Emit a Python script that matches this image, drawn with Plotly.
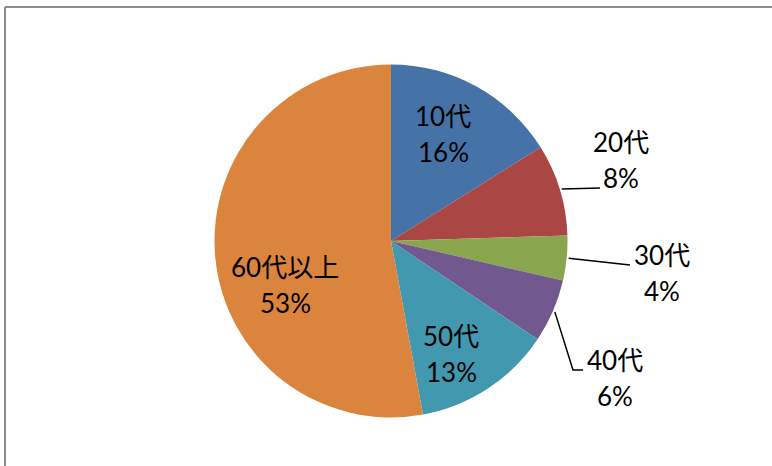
import math
import plotly.graph_objects as go

# ---- data ----
categories = ["10代", "20代", "30代", "40代", "50代", "60代以上"]
share = [16.1, 8.4, 4.1, 5.8, 12.7, 52.9]   # slice shares (%)
colors = ["#4572A7", "#AA4643", "#89A54E", "#71588F", "#4198AF", "#DB843D"]

# ---- layout settings (pixels) ----
W, H = 772, 466
CX, CY, R = 391, 241, 176.5
# label block centres (pixels)
label_pos = {
    "10代": (443, 134),
    "20代": (621, 160),
    "30代": (662, 273),
    "40代": (615, 378),
    "50代": (451, 354),
    "60代以上": (285, 285),
}
# leader line end points for outside labels (pixels)
leader_end = {
    "20代": [(600, 188)],
    "30代": [(630, 265)],
    "40代": [(573, 370), (583, 370)],
}
FONT = "Lato, 'Noto Sans CJK JP', sans-serif"
FS = 26
LINE_GAP = 18


def px(x):
    return x / W


def py(y):
    return 1 - y / H


fig = go.Figure(go.Pie(
    labels=categories,
    values=share,
    sort=False,
    direction="clockwise",
    rotation=0,
    marker=dict(colors=colors, line=dict(width=0)),
    textinfo="none",
    hoverinfo="label+percent",
    showlegend=False,
    domain=dict(x=[px(CX - R), px(CX + R)], y=[py(CY + R), py(CY - R)]),
))

annotations = []
shapes = []
total = sum(share)
cum = 0
for name, v in zip(categories, share):
    mid = (cum + v / 2) / total * 2 * math.pi
    cum += v
    pct = round(v / total * 100)
    lx, ly = label_pos[name]
    annotations.append(dict(x=px(lx), y=py(ly - LINE_GAP), xref="paper", yref="paper",
                            text=name, showarrow=False, xanchor="center", yanchor="middle",
                            font=dict(family=FONT, size=FS, color="#000000")))
    annotations.append(dict(x=px(lx), y=py(ly + LINE_GAP), xref="paper", yref="paper",
                            text=f"{pct}%", showarrow=False, xanchor="center", yanchor="middle",
                            font=dict(family=FONT, size=FS, color="#000000")))
    if name in leader_end:
        sx = CX + (R + 2) * math.sin(mid)
        sy = CY - (R + 2) * math.cos(mid)
        pts = [(sx, sy)] + leader_end[name]
        path = "M " + " L ".join(f"{px(a)},{py(b)}" for a, b in pts)
        shapes.append(dict(type="path", xref="paper", yref="paper", path=path,
                           line=dict(color="#000000", width=1.5)))

# chart-area border (top and left visible)
BX, BY = 5, 7
shapes.append(dict(type="line", xref="paper", yref="paper", x0=px(BX), y0=py(BY), x1=px(W + 5), y1=py(BY),
                   line=dict(color="#8C8C8C", width=2)))
shapes.append(dict(type="line", xref="paper", yref="paper", x0=px(BX), y0=py(BY), x1=px(BX), y1=py(H + 5),
                   line=dict(color="#8C8C8C", width=2)))

fig.update_layout(
    width=W, height=H,
    margin=dict(l=0, r=0, t=0, b=0),
    paper_bgcolor="#FFFFFF",
    plot_bgcolor="#FFFFFF",
    annotations=annotations,
    shapes=shapes,
)

fig.write_html("out.html", config={"displayModeBar": False},
               post_script="document.body.style.margin='0';document.body.style.overflow='hidden';")
